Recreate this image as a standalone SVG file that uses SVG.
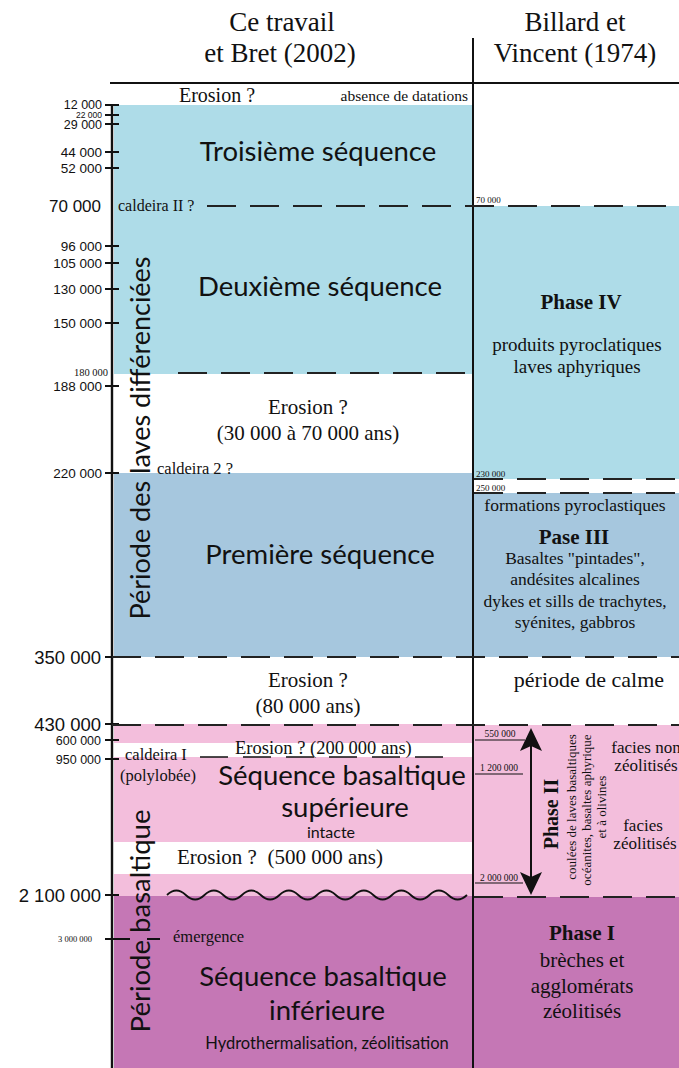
<svg xmlns="http://www.w3.org/2000/svg" width="679" height="1068" viewBox="0 0 679 1068">
<style>
.serif{font-family:"Liberation Serif","Times New Roman",serif;fill:#111}
.sans{font-family:Lato,"Open Sans",sans-serif;fill:#111}
.num{font-family:"Liberation Sans",Arial,sans-serif;fill:#111;text-anchor:end}
.mid{text-anchor:middle}
.b{font-weight:bold}
.dash{stroke:#222;stroke-width:2.2;stroke-dasharray:29 14;fill:none}
.ln{stroke:#111;stroke-width:2;fill:none}
.tk{stroke:#111;stroke-width:2}
</style>
<rect width="679" height="1068" fill="#fff"/>
<g id="bands">
<rect x="114" y="105" width="358" height="269" fill="#AEDCE8"/>
<rect x="114" y="473" width="358" height="184" fill="#A6C7DE"/>
<rect x="114" y="724" width="358" height="19" fill="#F3BEDC"/>
<rect x="114" y="757" width="358" height="85" fill="#F3BEDC"/>
<rect x="114" y="874" width="358" height="23" fill="#F3BEDC"/>
<rect x="114" y="896" width="358" height="172" fill="#C577B5"/>
<rect x="474" y="206" width="205" height="273" fill="#AEDCE8"/>
<rect x="474" y="493" width="205" height="164" fill="#A6C7DE"/>
<rect x="474" y="725" width="205" height="172" fill="#F3BEDC"/>
<rect x="474" y="897" width="205" height="171" fill="#C577B5"/>
</g>
<g id="header">
<text class="serif mid" x="282" y="31" font-size="27">Ce travail</text>
<text class="serif mid" x="280" y="62" font-size="27">et Bret (2002)</text>
<text class="serif mid" x="575" y="31" font-size="27">Billard et</text>
<text class="serif mid" x="575" y="62" font-size="27">Vincent (1974)</text>
</g>
<g id="frame">
<line class="ln" x1="110" y1="83" x2="679" y2="83"/>
<line class="ln" x1="473" y1="38" x2="473" y2="1068"/>
<line x1="112" y1="104" x2="112" y2="1068" stroke="#111" stroke-width="2.4"/>
</g>
<g id="axis-ticks">
<line class="tk" x1="105" y1="105" x2="119" y2="105"/>
<line class="tk" x1="105" y1="115" x2="119" y2="115"/>
<line class="tk" x1="105" y1="124" x2="119" y2="124"/>
<line class="tk" x1="105" y1="152" x2="119" y2="152"/>
<line class="tk" x1="105" y1="168" x2="119" y2="168"/>
<line class="tk" x1="105" y1="246" x2="119" y2="246"/>
<line class="tk" x1="105" y1="263" x2="119" y2="263"/>
<line class="tk" x1="105" y1="289" x2="119" y2="289"/>
<line class="tk" x1="105" y1="323" x2="119" y2="323"/>
<line class="tk" x1="105" y1="386" x2="119" y2="386"/>
<line class="tk" x1="105" y1="473" x2="119" y2="473"/>
<line class="tk" x1="105" y1="657" x2="119" y2="657"/>
<line class="tk" x1="105" y1="724" x2="119" y2="724"/>
<line class="tk" x1="105" y1="740" x2="119" y2="740"/>
<line class="tk" x1="105" y1="759" x2="119" y2="759"/>
<line class="tk" x1="105" y1="895" x2="119" y2="895"/>
<line class="tk" x1="105" y1="939" x2="130" y2="939"/>
<line class="tk" x1="147" y1="939" x2="160" y2="939"/>
<text class="num" x="102" y="109" font-size="12.5">12 000</text>
<text class="num" x="102" y="118" font-size="8.5">22 000</text>
<text class="num" x="102" y="129" font-size="12.5">29 000</text>
<text class="num" x="102" y="157" font-size="13.5">44 000</text>
<text class="num" x="102" y="173" font-size="13.5">52 000</text>
<text class="num" x="101" y="212" font-size="17">70 000</text>
<text class="num" x="102" y="251" font-size="13.5">96 000</text>
<text class="num" x="102" y="268" font-size="13.5">105 000</text>
<text class="num" x="102" y="294" font-size="13.5">130 000</text>
<text class="num" x="102" y="328" font-size="13.5">150 000</text>
<text class="serif" x="108" y="376" font-size="10.5" text-anchor="end">180 000</text>
<text class="num" x="102" y="391" font-size="13.5">188 000</text>
<text class="num" x="102" y="478" font-size="13.5">220 000</text>
<text class="num" x="101" y="663.5" font-size="18.5">350 000</text>
<text class="num" x="101" y="730.5" font-size="18.5">430 000</text>
<text class="num" x="101" y="744.5" font-size="12.5">600 000</text>
<text class="num" x="101" y="763.5" font-size="12.5">950 000</text>
<text class="num" x="101" y="901.5" font-size="18.5">2 100 000</text>
<text class="serif" x="92" y="942" font-size="8.5" text-anchor="end">3 000 000</text>
</g>
<g id="connectors">
<line class="dash" x1="207" y1="206" x2="679" y2="206"/>
<line class="dash" x1="178" y1="373" x2="467" y2="373"/>
<line class="dash" x1="474" y1="479" x2="679" y2="479"/>
<line class="dash" x1="474" y1="493" x2="679" y2="493"/>
<line class="dash" x1="112" y1="657" x2="679" y2="657"/>
<line class="dash" x1="112" y1="725" x2="679" y2="725"/>
<line class="dash" x1="474" y1="897" x2="679" y2="897"/>
<line x1="200" y1="757" x2="443" y2="757" stroke="#111" stroke-width="1.4" stroke-dasharray="28 15"/>
<path d="M167 895 q9.375 -9 18.75 0 t18.75 0 t18.75 0 t18.75 0 t18.75 0 t18.75 0 t18.75 0 t18.75 0 t18.75 0 t18.75 0 t18.75 0 t18.75 0 t18.75 0 t18.75 0 t18.75 0 t18.75 0" fill="none" stroke="#111" stroke-width="1.8"/>
<line x1="531" y1="745" x2="531" y2="879" stroke="#111" stroke-width="2"/>
<polygon points="531,728 542,751 531,746 520,751" fill="#111"/>
<polygon points="531,895 520,872 531,877 542,872" fill="#111"/>
<line x1="475" y1="740" x2="525" y2="740" stroke="#111" stroke-width="1.2"/>
<line x1="475" y1="774" x2="523" y2="774" stroke="#111" stroke-width="1.2"/>
<line x1="475" y1="883" x2="523" y2="883" stroke="#111" stroke-width="1.2"/>
</g>
<g id="erosion-top">
<text class="serif mid" x="217" y="102" font-size="20">Erosion ?</text>
<text class="serif" x="468" y="101" font-size="15.5" text-anchor="end">absence de datations</text>
</g>
<g id="troisieme">
<text class="sans mid" x="318" y="161" font-size="27.5">Troisième séquence</text>
<text class="serif" x="118" y="211" font-size="16">caldeira II ?</text>
</g>
<g id="deuxieme">
<text class="sans mid" x="320" y="296" font-size="27.5">Deuxième séquence</text>
</g>
<g id="erosion-2">
<text class="serif mid" x="308" y="414" font-size="21">Erosion ?</text>
<text class="serif mid" x="308" y="440" font-size="21">(30 000 à 70 000 ans)</text>
<text class="serif" x="157" y="474" font-size="16.5">caldeira 2 ?</text>
</g>
<g id="premiere">
<text class="sans mid" x="320" y="564" font-size="27.5">Première séquence</text>
</g>
<g id="erosion-3">
<text class="serif mid" x="308" y="687" font-size="21">Erosion ?</text>
<text class="serif mid" x="308" y="713" font-size="21">(80 000 ans)</text>
</g>
<g id="basaltique-sup">
<text class="serif" x="125" y="760" font-size="16.5">caldeira I</text>
<text class="serif" x="120" y="781" font-size="16.5">(polylobée)</text>
<text class="serif" x="235" y="754" font-size="18.5">Erosion ? (200 000 ans)</text>
<text class="sans mid" x="342" y="785" font-size="27.5">Séquence basaltique</text>
<text class="sans mid" x="345" y="817" font-size="27.5">supérieure</text>
<text class="sans mid" x="331" y="838" font-size="16">intacte</text>
<text class="serif" x="177" y="864" font-size="21" xml:space="preserve">Erosion ?  (500 000 ans)</text>
</g>
<g id="basaltique-inf">
<text class="serif" x="173" y="942" font-size="16.5">émergence</text>
<text class="sans mid" x="323" y="986" font-size="27.5">Séquence basaltique</text>
<text class="sans mid" x="327" y="1020" font-size="27.5">inférieure</text>
<text class="sans mid" x="327" y="1049" font-size="16.5">Hydrothermalisation, zéolitisation</text>
</g>
<g id="periods">
<text class="sans mid" transform="translate(150,438) rotate(-90)" font-size="27">Période des laves différenciées</text>
<text class="sans mid" transform="translate(150,921) rotate(-90)" font-size="27.5">Période basaltique</text>
</g>
<g id="phase-iv">
<text class="serif" x="476" y="203" font-size="9">70 000</text>
<text class="serif mid b" x="581" y="309" font-size="21">Phase IV</text>
<text class="serif mid" x="577" y="351" font-size="19">produits pyroclatiques</text>
<text class="serif mid" x="577" y="373" font-size="19">laves aphyriques</text>
<text class="serif" x="476" y="477" font-size="9">230 000</text>
<text class="serif" x="476" y="491" font-size="9">250 000</text>
</g>
<g id="phase-iii">
<text class="serif mid" x="575" y="511" font-size="17.5">formations pyroclastiques</text>
<text class="serif mid b" x="574" y="544" font-size="21">Pase III</text>
<text class="serif mid" x="575" y="564" font-size="17.5">Basaltes "pintades",</text>
<text class="serif mid" x="575" y="585" font-size="17.5">andésites alcalines</text>
<text class="serif mid" x="575" y="607" font-size="17.5">dykes et sills de trachytes,</text>
<text class="serif mid" x="575" y="628" font-size="17.5">syénites, gabbros</text>
</g>
<g id="calme">
<text class="serif mid" x="589" y="687" font-size="22">période de calme</text>
</g>
<g id="phase-ii">
<text class="serif mid" x="500" y="737" font-size="9.5">550 000</text>
<text class="serif mid" x="499" y="771" font-size="9.5">1 200 000</text>
<text class="serif mid" x="499" y="881" font-size="9.5">2 000 000</text>
<text class="serif mid b" transform="translate(558,814) rotate(-90)" font-size="20">Phase II</text>
<text class="serif mid" transform="translate(576,807) rotate(-90)" font-size="13">coulées de laves basaltiques</text>
<text class="serif mid" transform="translate(591,810) rotate(-90)" font-size="13">océanites, basaltes aphyrique</text>
<text class="serif mid" transform="translate(606,807) rotate(-90)" font-size="13">et à olivines</text>
<text class="serif mid" x="646" y="753" font-size="17">facies non</text>
<text class="serif mid" x="646" y="771" font-size="17">zéolitisés</text>
<text class="serif mid" x="643" y="831" font-size="17">facies</text>
<text class="serif mid" x="645" y="849" font-size="17">zéolitisés</text>
</g>
<g id="phase-i">
<text class="serif mid b" x="582" y="940" font-size="21">Phase I</text>
<text class="serif mid" x="582" y="967" font-size="21">brèches et</text>
<text class="serif mid" x="582" y="993" font-size="21">agglomérats</text>
<text class="serif mid" x="582" y="1018" font-size="21">zéolitisés</text>
</g>
</svg>
